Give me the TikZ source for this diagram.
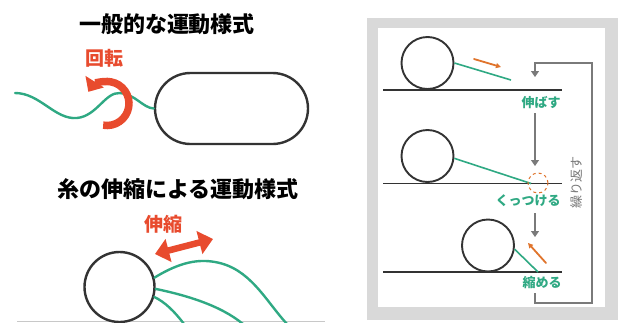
\documentclass[tikz,border=0pt]{standalone}
\usepackage{fontspec}
\newfontfamily\jp{Noto Sans CJK JP}
\usetikzlibrary{arrows.meta}

\definecolor{accred}{HTML}{E84B2E}
\definecolor{fil}{HTML}{2FA983}
\definecolor{accorange}{HTML}{E0742C}
\definecolor{inkdark}{HTML}{333333}
\definecolor{flowgray}{HTML}{7A7A7A}
\definecolor{framegray}{HTML}{D9D9D9}
\definecolor{floorgray}{HTML}{C8C8C8}

\tikzset{
  outline/.style={draw=inkdark, line width=2.4pt},
  smallball/.style={circle, draw=inkdark, line width=1.9pt, minimum size=52pt, inner sep=0pt},
  filament/.style={draw=fil, line width=2.4pt, line cap=round},
  thinfil/.style={draw=fil, line width=1.6pt},
  floor/.style={draw=inkdark, line width=1.6pt},
  title/.style={font=\jp\bfseries\fontsize{22}{22}\selectfont, text=black},
  redlabel/.style={font=\jp\bfseries\fontsize{19}{19}\selectfont, text=accred},
  steplabel/.style={font=\jp\bfseries\fontsize{13}{13}\selectfont, text=fil},
  flow/.style={draw=flowgray, line width=1.1pt, -{Triangle[length=6pt,width=8pt]}},
  push/.style={draw=accorange, line width=1.8pt, line cap=round, -{Triangle[length=5pt,width=5pt]}},
}

\begin{document}
\begin{tikzpicture}[x=1pt,y=-1pt]
\useasboundingbox (0,0) rectangle (622,322);

% ---------- upper left: rotating flagellum ----------
\node[title] (t1) at (167,24) {一般的な運動様式};
\node[redlabel] (rotlbl) at (104,58) {回転};
\node[outline, minimum width=153pt, minimum height=71pt, rounded corners=35.5pt] (cap) at (231.5,108.5) {};
\draw[filament] (15,93) .. controls (40,93) and (55,120) .. (77,118)
  .. controls (97,116) and (105,92) .. (120,93)
  .. controls (135,94) and (143,108) .. (cap.west);
\coordinate (rotc) at (107,103.5);
\draw[draw=accred, line width=7.5pt, -{Triangle[length=12pt,width=21pt]}]
  ([shift={(-100:22pt)}]rotc) arc[start angle=-100, end angle=148, radius=22pt];

% ---------- lower left: stretching filaments ----------
\node[title] (t2) at (178,189) {糸の伸縮による運動様式};
\node[redlabel] (strlbl) at (163,224) {伸縮};
\draw[draw=floorgray, line width=1pt] (17,321.5) -- (325,321.5);
\node[circle, outline, minimum size=70pt, inner sep=0pt] (ball) at (119.5,287) {};
\draw[filament] (ball.15) .. controls (180,262) and (198,259) .. (215,262)
  .. controls (250,268) and (265,300) .. (287,324);
\draw[filament] (ball.-3) .. controls (185,295) and (220,305) .. (243,324);
\draw[filament] (ball.-16) .. controls (165,302) and (175,312) .. (184,324);
\coordinate (sl) at (155,254);
\coordinate (sr) at (213,239);
\draw[draw=accred, line width=6.5pt, {Triangle[length=14pt,width=23pt]}-{Triangle[length=14pt,width=23pt]}] (sl) -- (sr);

% ---------- right: cycle of steps ----------
\fill[framegray] (367,18) rectangle (618,320);
\fill[white] (378,28) rectangle (605,307);

% step 1: stretch
\node[smallball] (b1) at (427.5,63) {};
\draw[floor] (383,90) -- (562,90);
\coordinate (f1) at (511,80);
\draw[thinfil] (b1.east) -- (f1);
\coordinate (p1a) at (474,59);
\coordinate (p1b) at (501,67);
\draw[push] (p1a) -- (p1b);
\node[steplabel] (s1) at (541,103) {伸ばす};

% step 2: attach
\node[smallball] (b2) at (427.5,156) {};
\draw[floor] (383,183.5) -- (562,183.5);
\coordinate (f2) at (531,183.5);
\draw[thinfil] (b2.-5) -- (f2);
\node[circle, draw=accorange, dashed, line width=1pt, minimum size=20pt, inner sep=0pt] (spot) at (538,183) {};
\node[steplabel] (s2) at (528,201) {くっつける};

% step 3: contract
\node[smallball] (b3) at (488,245.5) {};
\draw[floor] (383,272) -- (562,272);
\coordinate (f3) at (538,272);
\draw[thinfil] (b3.-8) -- (f3);
\coordinate (p3a) at (546,263);
\coordinate (p3b) at (528,243);
\draw[push] (p3a) -- (p3b);
\node[steplabel] (s3) at (542,283) {縮める};

% flow arrows
\coordinate (a1top) at (535,113);
\coordinate (a1tip) at (535,166);
\draw[flow] (a1top) -- (a1tip);
\coordinate (a2top) at (535,213);
\coordinate (a2tip) at (535,237);
\draw[flow] (a2top) -- (a2tip);
\coordinate (loopstart) at (535,293);
\coordinate (looptip) at (535,77);
\draw[flow] (loopstart) -- (535,303) -- (592,303) -- (592,63) -- (535,63) -- (looptip);
\node[rotate=90, font=\jp\fontsize{13}{13}\selectfont, text=flowgray] (rep) at (577,182) {繰り返す};
\end{tikzpicture}
\end{document}
